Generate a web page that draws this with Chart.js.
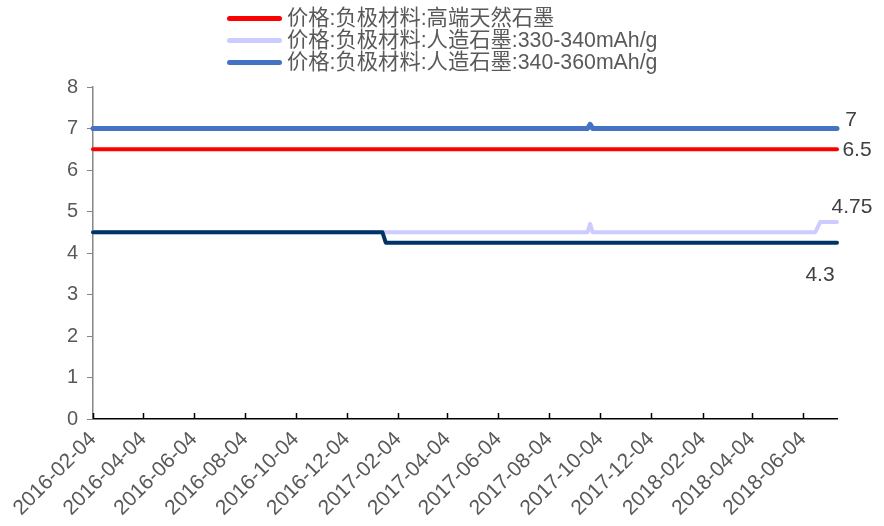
<!DOCTYPE html>
<html><head><meta charset="utf-8">
<script src="https://cdn.jsdelivr.net/npm/chart.js@4.4.1/dist/chart.umd.min.js"></script>
<style>
html,body{margin:0;padding:0;background:#fff;}
#wrap{position:relative;width:884px;height:526px;}
#legend{position:absolute;left:227px;top:7px;font-family:"Liberation Sans","Noto Sans CJK SC",sans-serif;font-size:21.3px;color:#595959;line-height:22px;}
.row{display:flex;align-items:center;height:22px;white-space:nowrap;}
.sw{width:55px;height:5px;border-radius:3px;margin-right:5px;flex:none;}
</style></head><body>
<div id="wrap"><canvas id="c" width="884" height="526"></canvas><div id="legend"></div></div>
<script>
// ---- data ----
const seriesNames = ["价格:负极材料:高端天然石墨", "价格:负极材料:人造石墨:330-340mAh/g", "价格:负极材料:人造石墨:340-360mAh/g", "价格:负极材料:人造石墨:中端"];
const redDates = ["2016-02-04", "2018-07-15"];
const redValues = [6.5, 6.5];
const lavenderDates = ["2016-02-04", "2017-09-19", "2017-09-22", "2017-09-25", "2018-06-19", "2018-06-25", "2018-07-15"];
const lavenderValues = [4.5, 4.5, 4.7, 4.5, 4.5, 4.75, 4.75];
const blueDates = ["2016-02-04", "2017-09-19", "2017-09-22", "2017-09-25", "2018-07-15"];
const blueValues = [7, 7, 7.1, 7, 7];
const navyDates = ["2016-02-04", "2017-01-16", "2017-01-20", "2018-07-15"];
const navyValues = [4.5, 4.5, 4.25, 4.25];
const endLabels = ["6.5", "4.75", "7", "4.3"];
const tickLabels = ["2016-02-04","2016-04-04","2016-06-04","2016-08-04","2016-10-04","2016-12-04","2017-02-04","2017-04-04","2017-06-04","2017-08-04","2017-10-04","2017-12-04","2018-02-04","2018-04-04","2018-06-04"];
const xMinDate = "2016-02-04";
const xMaxDate = "2018-07-15";
const yMin = 0, yMax = 8, yStep = 1;

// ---- styles ----
const colors = ["#FF0000", "#CCCCFF", "#4472C4", "#003366"];
const widths = [4, 4, 5, 4];
const orders = [1, 1, 1, 0];
const labelOffsets = [[20, 1], [15, -15], [14, -8], [-17, 33]];

const dayNum = s => Date.UTC(+s.slice(0,4), +s.slice(5,7)-1, +s.slice(8,10)) / 864e5;
const toPts = (d, v) => d.map((s, i) => ({x: dayNum(s), y: v[i]}));
const allDates = [redDates, lavenderDates, blueDates, navyDates];
const allValues = [redValues, lavenderValues, blueValues, navyValues];

// legend (first three series, as in the source)
const lg = document.getElementById('legend');
seriesNames.slice(0, 3).forEach((n, i) => {
  const r = document.createElement('div'); r.className = 'row';
  const s = document.createElement('span'); s.className = 'sw'; s.style.background = colors[i];
  const t = document.createElement('span'); t.textContent = n;
  r.appendChild(s); r.appendChild(t); lg.appendChild(r);
});

const extras = {
  id: 'extras',
  afterDatasetsDraw(chart) {
    const ctx = chart.ctx, xs = chart.scales.x, ys = chart.scales.y;
    ctx.save();
    ctx.strokeStyle = '#000'; ctx.lineWidth = 1.5;
    xs.ticks.forEach(t => {
      const px = Math.round(xs.getPixelForValue(t.value)) + 0.5;
      ctx.beginPath(); ctx.moveTo(px, ys.bottom); ctx.lineTo(px, ys.bottom - 6); ctx.stroke();
    });
    ctx.font = '21px "Liberation Sans", Arial, sans-serif';
    ctx.fillStyle = '#404040'; ctx.textAlign = 'center'; ctx.textBaseline = 'middle';
    chart.data.datasets.forEach((ds, i) => {
      const meta = chart.getDatasetMeta(i);
      const pt = meta.data[meta.data.length - 1];
      ctx.fillText(endLabels[i], pt.x + labelOffsets[i][0], pt.y + labelOffsets[i][1]);
    });
    ctx.restore();
  }
};

new Chart(document.getElementById('c'), {
  type: 'line',
  data: {
    datasets: seriesNames.map((n, i) => ({
      label: n,
      data: toPts(allDates[i], allValues[i]),
      borderColor: colors[i], backgroundColor: colors[i],
      borderWidth: widths[i], pointRadius: 0, tension: 0,
      borderCapStyle: 'round', borderJoinStyle: 'round',
      order: orders[i], clip: false
    }))
  },
  options: {
    responsive: false, animation: false, devicePixelRatio: 1,
    layout: {padding: {top: 87, right: 47, left: 0, bottom: 0}},
    plugins: {legend: {display: false}, tooltip: {enabled: false}},
    scales: {
      x: {
        type: 'linear', min: dayNum(xMinDate), max: dayNum(xMaxDate),
        afterBuildTicks: s => { s.ticks = tickLabels.map(t => ({value: dayNum(t)})); },
        afterFit: s => { s.height = 107; },
        ticks: {autoSkip: false, maxRotation: 45, minRotation: 45, padding: 8,
          font: {family: '"Liberation Sans", Arial, sans-serif', size: 21}, color: '#595959',
          callback: (v, i) => tickLabels[i]},
        grid: {drawOnChartArea: false, drawTicks: false},
        border: {color: '#000', width: 1.5}
      },
      y: {
        min: yMin, max: yMax,
        afterFit: s => { s.width = 93; },
        ticks: {stepSize: yStep, padding: 9,
          font: {family: '"Liberation Sans", Arial, sans-serif', size: 20}, color: '#595959'},
        grid: {drawOnChartArea: false, tickLength: 6, color: '#868686'},
        border: {color: '#868686', width: 1.5}
      }
    }
  },
  plugins: [extras]
});
</script>
</body></html>
